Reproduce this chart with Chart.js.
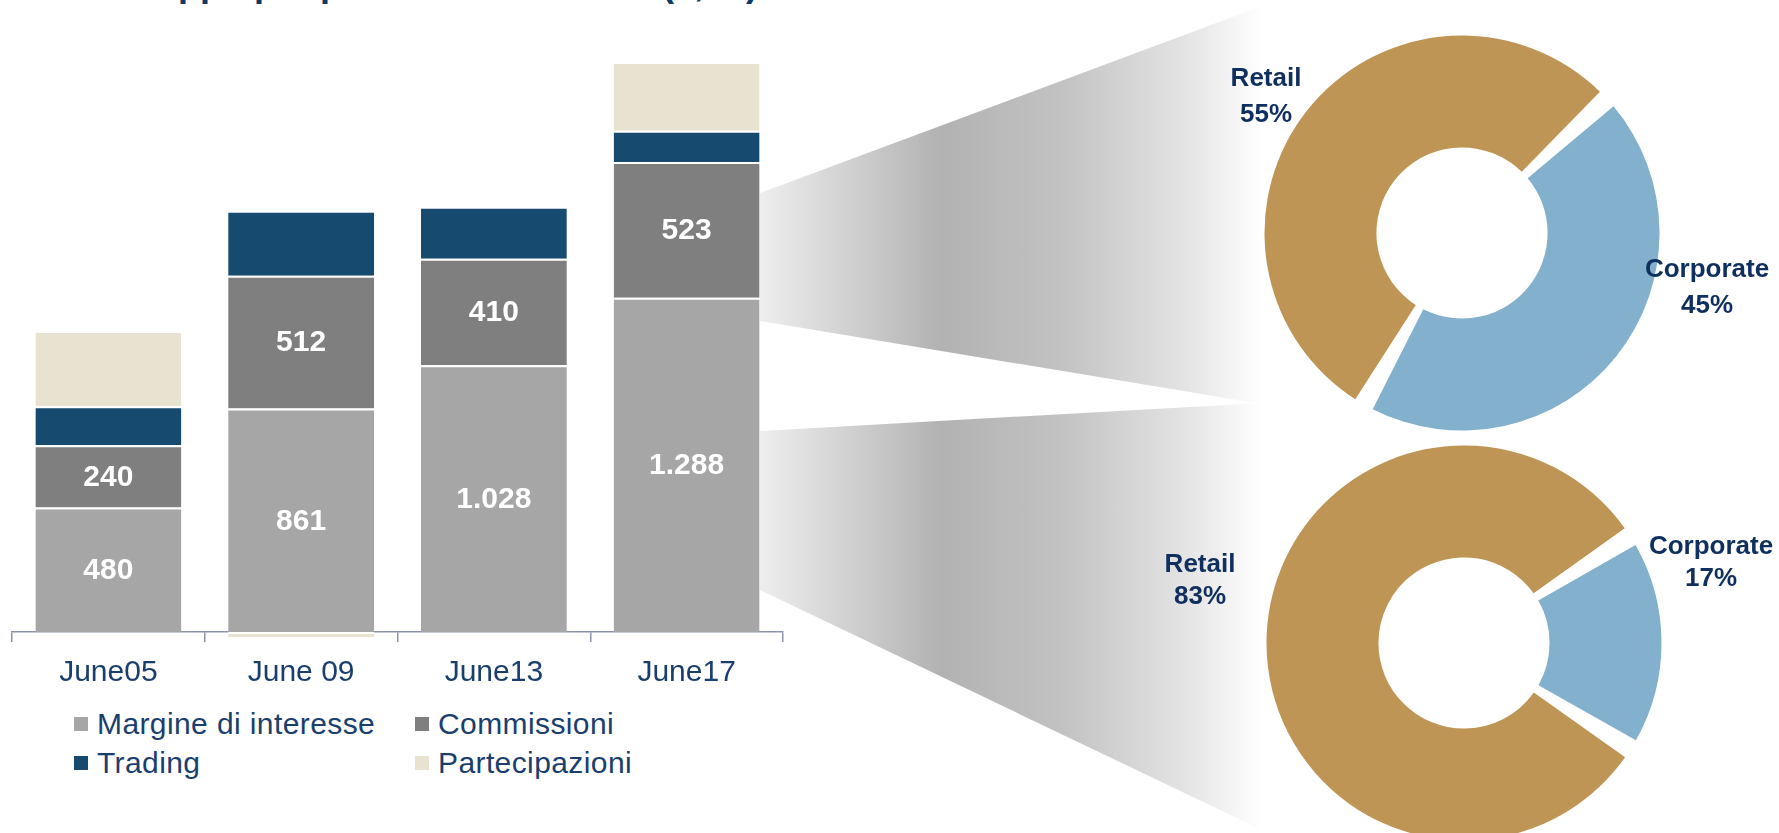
<!DOCTYPE html>
<html>
<head>
<meta charset="utf-8">
<script src="https://cdn.jsdelivr.net/npm/chart.js@4.4.1/dist/chart.umd.min.js"></script>
<style>
html, body { margin: 0; padding: 0; background: #fff; }
body { width: 1779px; height: 833px; position: relative; overflow: hidden; font-family: "Liberation Sans", Arial, sans-serif; }
#title { position: absolute; left: 92px; top: -34px; font-size: 36px; line-height: 36px; font-weight: bold; color: #0f3a68; white-space: nowrap; }
.funnel { position: absolute; left: 760px; top: 0; width: 502px; height: 833px;
  background: linear-gradient(90deg, #eeeeee 0%, #b2b2b2 36%, #c2c2c2 60%, #e4e4e4 85%, #ffffff 100%); }
#funnelTop { clip-path: polygon(0 193px, 502px 6px, 502px 404px, 0 321px); }
#funnelBottom { clip-path: polygon(0 431px, 502px 403px, 502px 830px, 0 590px); }
canvas { position: absolute; }
#bars { left: 0; top: 0; }
#donutTop { left: 1145px; top: 0; }
#donutBottom { left: 1149px; top: 428px; }
#legend { position: absolute; left: 74px; top: 704px; display: grid; grid-template-columns: 341px auto; grid-auto-rows: 39px; }
#legend .item { display: flex; align-items: center; font-size: 30px; letter-spacing: 0.4px; color: #1a3e6e; white-space: nowrap; }
#legend .box { width: 14px; height: 14px; margin-right: 9px; flex: none; }
</style>
</head>
<body>
<div id="title">Sviluppo per prodotti e business (€, m)</div>
<div class="funnel" id="funnelTop"></div>
<div class="funnel" id="funnelBottom"></div>
<canvas id="bars" width="800" height="704"></canvas>
<canvas id="donutTop" width="634" height="466"></canvas>
<canvas id="donutBottom" width="630" height="430"></canvas>
<div id="legend"></div>

<script>
// ricavi per componente
const categories = ['June05', 'June 09', 'June13', 'June17'];
const margineInteresse = [480, 861, 1028, 1288];
const commissioni = [240, 512, 410, 523];
const trading = [150, 250, 200, 120];
const partecipazioni = [290, -20, 0, 265];

// ripartizione per segmento clienti
const segments = ['Retail', 'Corporate'];
const quotaUpper = [55, 45];
const quotaLower = [83, 17];

const navy = '#1a3e6e';
const labelNavy = '#0f2f5e';
const axisColor = '#8a93a8';
const font = '"Liberation Sans", Arial, sans-serif';

const series = [
  { label: 'Margine di interesse', data: margineInteresse, color: '#a6a6a6' },
  { label: 'Commissioni', data: commissioni, color: '#7f7f7f' },
  { label: 'Trading', data: trading, color: '#164a6e' },
  { label: 'Partecipazioni', data: partecipazioni, color: '#e8e3d1' }
];

function formatIt(v) {
  return String(v).replace(/\B(?=(\d{3})+(?!\d))/g, '.');
}

// white numbers inside the first two segments
const segmentLabels = {
  id: 'segmentLabels',
  afterDatasetsDraw(chart) {
    const ctx = chart.ctx;
    ctx.save();
    ctx.font = 'bold 30px ' + font;
    ctx.fillStyle = '#ffffff';
    ctx.textAlign = 'center';
    ctx.textBaseline = 'middle';
    [0, 1].forEach(i => {
      chart.getDatasetMeta(i).data.forEach((bar, j) => {
        const v = chart.data.datasets[i].data[j];
        ctx.fillText(formatIt(v), bar.x, (bar.y + bar.base) / 2 + 1);
      });
    });
    ctx.restore();
  }
};

new Chart(document.getElementById('bars'), {
  type: 'bar',
  data: {
    labels: categories,
    datasets: series.map(s => ({
      label: s.label,
      data: s.data,
      backgroundColor: s.color,
      borderColor: '#ffffff',
      borderWidth: { top: 2, left: 0, right: 0, bottom: 0 },
      borderSkipped: false,
      categoryPercentage: 1,
      barPercentage: 0.757,
      clip: false
    }))
  },
  options: {
    responsive: false,
    animation: false,
    devicePixelRatio: 1,
    layout: { padding: { left: 12, right: 17, top: 0, bottom: 0 } },
    plugins: { legend: { display: false }, tooltip: { enabled: false } },
    scales: {
      x: {
        stacked: true,
        z: 1,
        grid: { display: true, offset: true, drawOnChartArea: false, drawTicks: true, tickLength: 10, color: axisColor, lineWidth: 1.5 },
        border: { display: true, color: axisColor, width: 1.5 },
        ticks: { color: navy, font: { family: font, size: 30 }, padding: 13 }
      },
      y: { stacked: true, display: false, min: 0, max: 2435 }
    }
  },
  plugins: [segmentLabels]
});

// legend grid
const legend = document.getElementById('legend');
series.forEach(s => {
  const item = document.createElement('div');
  item.className = 'item';
  const box = document.createElement('span');
  box.className = 'box';
  box.style.background = s.color;
  item.appendChild(box);
  item.appendChild(document.createTextNode(s.label));
  legend.appendChild(item);
});

// label name + percentage beside each slice
const sliceLabels = {
  id: 'sliceLabels',
  afterDraw(chart, args, opts) {
    const ctx = chart.ctx;
    const arc = chart.getDatasetMeta(0).data[0];
    ctx.save();
    ctx.font = 'bold 26px ' + font;
    ctx.fillStyle = labelNavy;
    ctx.textAlign = 'center';
    ctx.textBaseline = 'middle';
    chart.data.labels.forEach((name, i) => {
      const p = opts.place[i];
      ctx.fillText(name, arc.x + p[0], arc.y + p[1]);
      ctx.fillText(chart.data.datasets[0].data[i] + '%', arc.x + p[0], arc.y + p[1] + opts.lineGap);
    });
    ctx.restore();
  }
};

function donut(id, values, rotation, place, lineGap) {
  return new Chart(document.getElementById(id), {
    type: 'doughnut',
    data: {
      labels: segments,
      datasets: [{
        data: values,
        backgroundColor: ['#be9555', '#82b0cd'],
        borderWidth: 0,
        spacing: 9
      }]
    },
    options: {
      responsive: false,
      animation: false,
      devicePixelRatio: 1,
      radius: 193,
      cutout: '42%',
      rotation: rotation,
      plugins: {
        legend: { display: false },
        tooltip: { enabled: false },
        sliceLabels: { place: place, lineGap: lineGap }
      }
    },
    plugins: [sliceLabels]
  });
}

donut('donutTop', quotaUpper, 209.5, [[-196, -154], [245, 37]], 36);
donut('donutBottom', quotaLower, 120.5, [[-264, -78], [247, -96]], 32);
</script>
</body>
</html>
